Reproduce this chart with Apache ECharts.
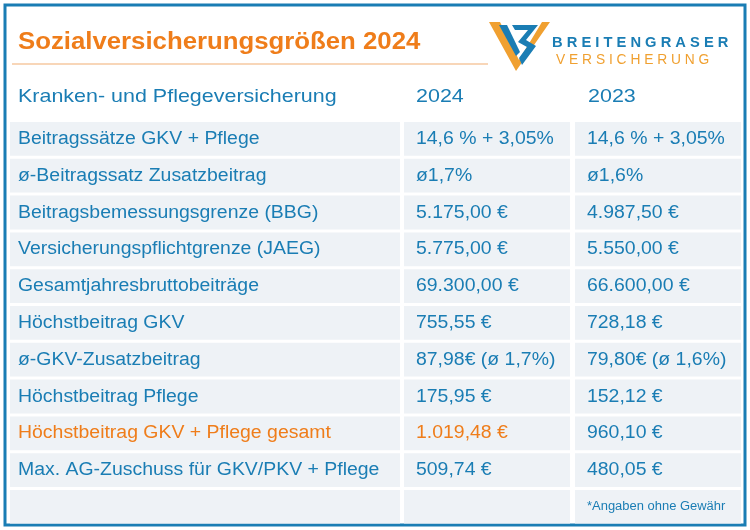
<!DOCTYPE html>
<html><head><meta charset="utf-8">
<script src="https://cdn.jsdelivr.net/npm/echarts@6/dist/echarts.min.js"></script>
<style>html,body{margin:0;padding:0;background:#fff}#main{width:750px;height:530px}</style>
</head><body><div id="main"></div>
<script>
var labels = ['Beitragssätze GKV + Pflege', 'ø-Beitragssatz Zusatzbeitrag', 'Beitragsbemessungsgrenze (BBG)',
  'Versicherungspflichtgrenze (JAEG)', 'Gesamtjahresbruttobeiträge', 'Höchstbeitrag GKV', 'ø-GKV-Zusatzbeitrag',
  'Höchstbeitrag Pflege', 'Höchstbeitrag GKV + Pflege gesamt', 'Max. AG-Zuschuss für GKV/PKV + Pflege', ''];
var values2024 = ['14,6 % + 3,05%', 'ø1,7%', '5.175,00 €', '5.775,00 €', '69.300,00 €', '755,55 €',
  '87,98€ (ø 1,7%)', '175,95 €', '1.019,48 €', '509,74 €', ''];
var values2023 = ['14,6 % + 3,05%', 'ø1,6%', '4.987,50 €', '5.550,00 €', '66.600,00 €', '728,18 €',
  '79,80€ (ø 1,6%)', '152,12 €', '960,10 €', '480,05 €', '*Angaben ohne Gewähr'];
var highlightRow = 8;

var blue = '#1a7db4', orange = '#ef7d1a', cellBg = '#eef2f6';
var font = 'Arial, "Liberation Sans", sans-serif';
var myChart = echarts.init(document.getElementById('main'));

// text etwas breiter gezogen wie im original
function txt(x, y, s, fill, f, sx) {
  return {type: 'text', x: x, y: y, scaleX: sx || 1.08,
    style: {x: 0, y: 0, text: s, fill: fill, font: f, textVerticalAlign: 'middle'}};
}

var cols = [[10, 390], [404, 166], [575, 166]];
var top0 = 122, rowH = 36.8;
var els = [];
els.push({type: 'rect', shape: {x: 5, y: 5, width: 740, height: 520}, style: {fill: '#fff', stroke: blue, lineWidth: 3}});
els.push(txt(18, 43, 'Sozialversicherungsgrößen 2024', orange, 'bold 23px ' + font, 1.12));
els.push({type: 'line', shape: {x1: 12, y1: 64, x2: 488, y2: 64}, style: {stroke: '#f6c9a0', lineWidth: 1.5}});
// logo
els.push({type: 'polygon', shape: {points: [[489, 22], [500, 22], [519, 60], [542, 22], [550, 22], [516, 71]]}, style: {fill: '#f0a030'}});
els.push({type: 'polygon', shape: {points: [[499, 25], [507, 25], [520, 52], [516, 56]]}, style: {fill: blue}});
els.push({type: 'polygon', shape: {points: [[512, 25], [538, 25], [526, 40], [536, 46], [522, 65], [519, 58], [527, 47], [518, 42], [528, 30], [515, 30]]}, style: {fill: blue}});
els.push(txt(552, 43, 'B R E I T E N G R A S E R', blue, 'bold 15px ' + font, 0.98));
els.push(txt(556, 60, 'V E R S I C H E R U N G', '#f0a030', '15px ' + font, 0.92));
// kopfzeile
els.push(txt(18, 97, 'Kranken- und Pflegeversicherung', blue, '19px ' + font, 1.13));
els.push(txt(416, 97, '2024', blue, '19px ' + font, 1.13));
els.push(txt(588, 97, '2023', blue, '19px ' + font, 1.13));

labels.forEach(function (lab, i) {
  var y = top0 + i * rowH;
  var h = (i === labels.length - 1) ? 523.5 - y : rowH - 3;
  var row = [lab, values2024[i], values2023[i]];
  cols.forEach(function (c, j) {
    els.push({type: 'rect', shape: {x: c[0], y: y, width: c[1], height: h}, style: {fill: cellBg}});
    if (!row[j]) return;
    var isNote = (j === 2 && i === labels.length - 1);
    els.push(txt(c[0] + (j === 0 ? 8 : 12), y + 17, row[j],
      (i === highlightRow && j < 2) ? orange : blue,
      (isNote ? '12px ' : '18px ') + font));
  });
});

myChart.setOption({animation: false, graphic: {elements: els}});
</script></body></html>
